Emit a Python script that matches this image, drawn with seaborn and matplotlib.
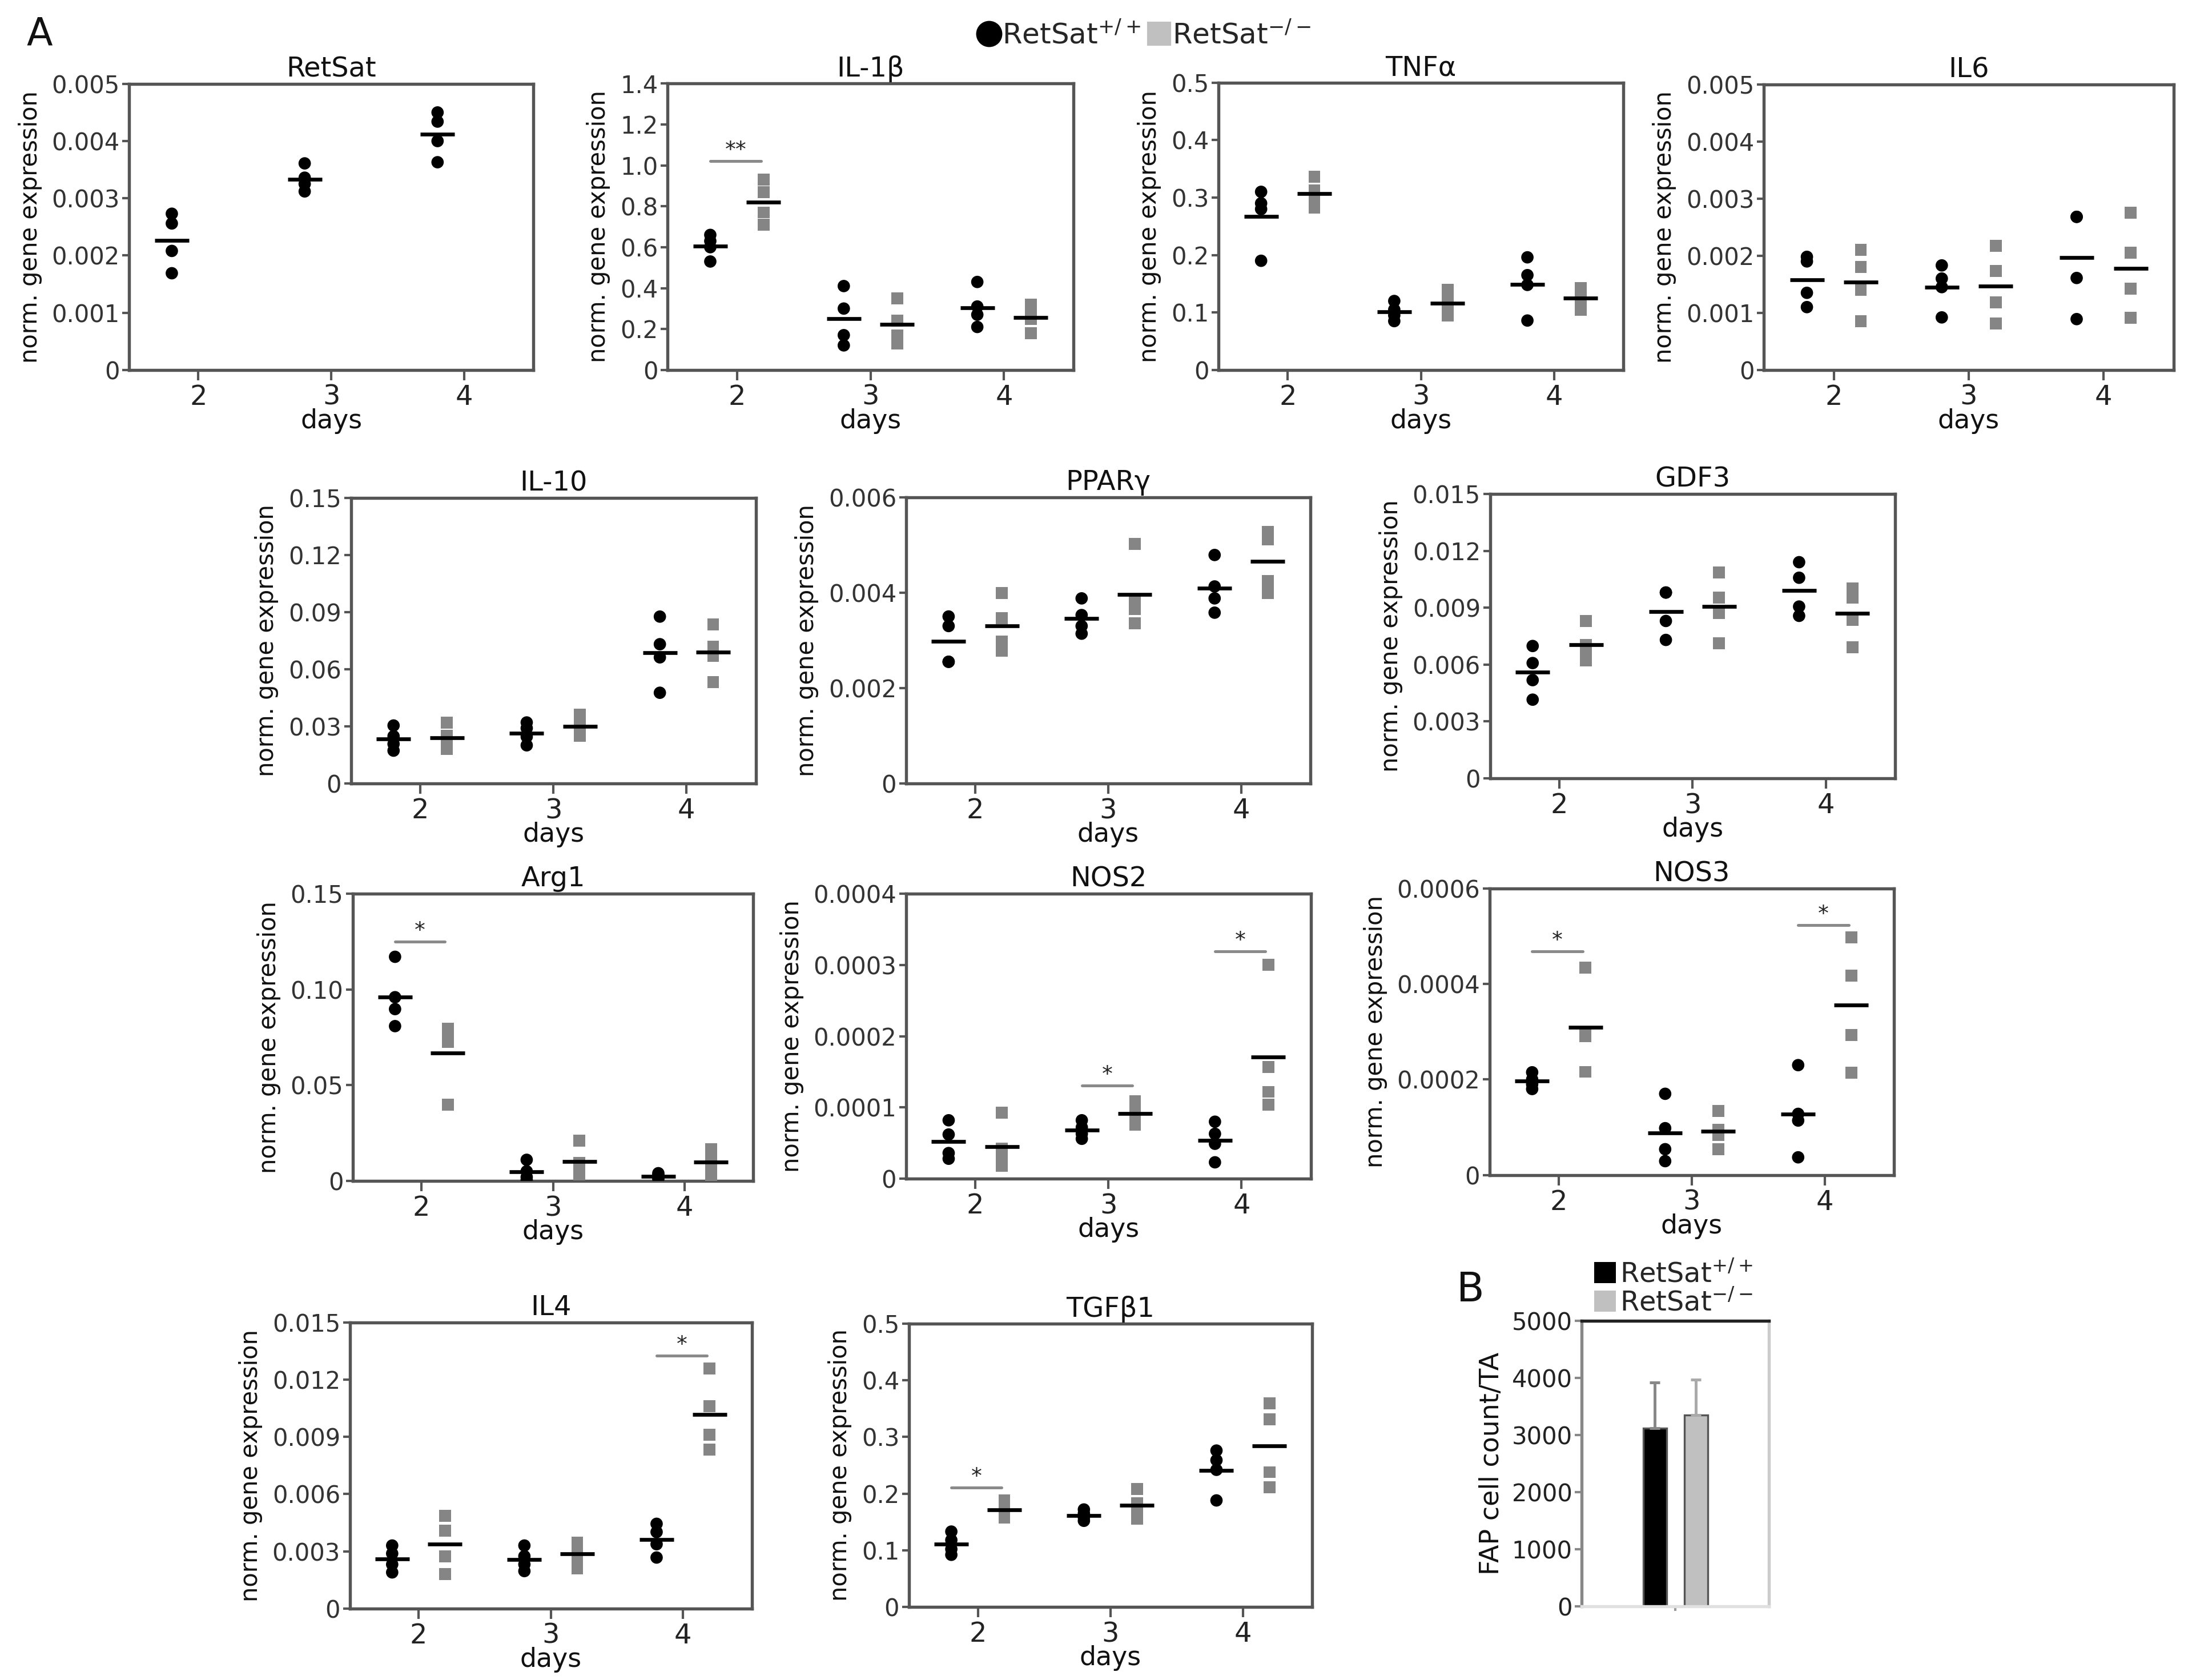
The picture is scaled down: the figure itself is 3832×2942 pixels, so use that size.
import numpy as np
import pandas as pd
import matplotlib
matplotlib.use("Agg")
import matplotlib.pyplot as plt
import seaborn as sns
from matplotlib.lines import Line2D
from matplotlib.patches import Patch

sns.set_theme(style="ticks")
plt.rcParams['font.family'] = ['DejaVu Sans']

DAYS = ['2', '3', '4']
WT = 'RetSat+/+'
KO = 'RetSat-/-'
GENOTYPES = [WT, KO]

# ---- data (per day: 4 animals) ----
RETSAT_WT = [[0.00273, 0.00256, 0.00208, 0.00169], [0.00361, 0.00336, 0.00325, 0.00312], [0.00450, 0.00434, 0.00400, 0.00363]]
RETSAT_KO = [[], [], []]
IL1B_WT = [[0.66, 0.63, 0.60, 0.53], [0.41, 0.30, 0.17, 0.12], [0.43, 0.31, 0.27, 0.21]]
IL1B_KO = [[0.93, 0.87, 0.77, 0.71], [0.35, 0.24, 0.17, 0.13], [0.32, 0.28, 0.25, 0.18]]
TNFA_WT = [[0.31, 0.29, 0.28, 0.19], [0.12, 0.105, 0.095, 0.085], [0.196, 0.165, 0.148, 0.086]]
TNFA_KO = [[0.336, 0.312, 0.297, 0.283], [0.14, 0.12, 0.11, 0.095], [0.143, 0.131, 0.122, 0.105]]
IL6_WT = [[0.00198, 0.0019, 0.00135, 0.0011], [0.00183, 0.0016, 0.00145, 0.00092], [0.00268, 0.00268, 0.00161, 0.00089]]
IL6_KO = [[0.0021, 0.0018, 0.0014, 0.00085], [0.00217, 0.00173, 0.00118, 0.00081], [0.00275, 0.00205, 0.00142, 0.00091]]
IL10_WT = [[0.0304, 0.0248, 0.0207, 0.0172], [0.032, 0.029, 0.0245, 0.020], [0.0876, 0.0731, 0.0662, 0.0476]]
IL10_KO = [[0.032, 0.025, 0.021, 0.018], [0.036, 0.031, 0.028, 0.025], [0.0835, 0.0718, 0.0669, 0.0531]]
PPARG_WT = [[0.0035, 0.0033, 0.00255, 0.00255], [0.00388, 0.00353, 0.0033, 0.00314], [0.00479, 0.00413, 0.00388, 0.00358]]
PPARG_KO = [[0.00399, 0.00347, 0.00297, 0.00278], [0.00502, 0.0038, 0.00366, 0.00336], [0.00528, 0.00512, 0.00424, 0.00399]]
GDF3_WT = [[0.00698, 0.00608, 0.00518, 0.00415], [0.0098, 0.0098, 0.0083, 0.0073], [0.0114, 0.01058, 0.00906, 0.00857]]
GDF3_KO = [[0.0083, 0.00705, 0.00664, 0.00622], [0.01085, 0.00954, 0.00871, 0.00712], [0.01002, 0.00954, 0.00836, 0.00691]]
ARG1_WT = [[0.117, 0.0959, 0.0897, 0.0808], [0.011, 0.005, 0.002, 0.0005], [0.004, 0.003, 0.002, 0.001]]
ARG1_KO = [[0.0795, 0.0747, 0.0726, 0.0397], [0.021, 0.0095, 0.006, 0.0035], [0.0165, 0.012, 0.0085, 0.0025]]
NOS2_WT = [[8.2e-5, 6.2e-5, 3.6e-5, 2.8e-5], [8.2e-5, 7.2e-5, 6.3e-5, 5.6e-5], [8.0e-5, 6.3e-5, 4.9e-5, 2.3e-5]]
NOS2_KO = [[9.3e-5, 4.2e-5, 2.8e-5, 1.8e-5], [1.09e-4, 9.5e-5, 8.7e-5, 7.6e-5], [3.0e-4, 1.57e-4, 1.22e-4, 1.04e-4]]
NOS3_WT = [[2.15e-4, 2.0e-4, 1.9e-4, 1.8e-4], [1.7e-4, 0.98e-4, 0.54e-4, 0.29e-4], [2.3e-4, 1.28e-4, 1.14e-4, 0.37e-4]]
NOS3_KO = [[4.34e-4, 2.96e-4, 2.9e-4, 2.16e-4], [1.34e-4, 0.95e-4, 0.84e-4, 0.54e-4], [4.97e-4, 4.17e-4, 2.93e-4, 2.14e-4]]
IL4_WT = [[0.0033, 0.00288, 0.00231, 0.00189], [0.0033, 0.00274, 0.00231, 0.00196], [0.00444, 0.00401, 0.00337, 0.00267]]
IL4_KO = [[0.00486, 0.00408, 0.00274, 0.00181], [0.00345, 0.00323, 0.00267, 0.0021], [0.01259, 0.0106, 0.00912, 0.00834]]
TGFB1_WT = [[0.133, 0.118, 0.102, 0.092], [0.172, 0.165, 0.158, 0.152], [0.276, 0.259, 0.242, 0.188]]
TGFB1_KO = [[0.188, 0.178, 0.163, 0.158], [0.208, 0.183, 0.171, 0.156], [0.359, 0.331, 0.238, 0.211]]

# significance annotations: (day index, height, label)
IL1B_SIG = [(0, 1.02, '**')]
ARG1_SIG = [(0, 0.125, '*')]
NOS2_SIG = [(1, 1.31e-4, '*'), (2, 3.19e-4, '*')]
NOS3_SIG = [(0, 4.68e-4, '*'), (2, 5.23e-4, '*')]
IL4_SIG = [(2, 0.01327, '*')]
TGFB1_SIG = [(0, 0.211, '*')]

# y tick labels
YT_RETSAT = ['0', '0.001', '0.002', '0.003', '0.004', '0.005']
YT_IL1B = ['0', '0.2', '0.4', '0.6', '0.8', '1.0', '1.2', '1.4']
YT_TNFA = ['0', '0.1', '0.2', '0.3', '0.4', '0.5']
YT_IL6 = ['0', '0.001', '0.002', '0.003', '0.004', '0.005']
YT_IL10 = ['0', '0.03', '0.06', '0.09', '0.12', '0.15']
YT_PPARG = ['0', '0.002', '0.004', '0.006']
YT_GDF3 = ['0', '0.003', '0.006', '0.009', '0.012', '0.015']
YT_ARG1 = ['0', '0.05', '0.10', '0.15']
YT_NOS2 = ['0', '0.0001', '0.0002', '0.0003', '0.0004']
YT_NOS3 = ['0', '0.0002', '0.0004', '0.0006']
YT_IL4 = ['0', '0.003', '0.006', '0.009', '0.012', '0.015']
YT_TGFB1 = ['0', '0.1', '0.2', '0.3', '0.4', '0.5']

# panel B
FAP_MEAN = [3120, 3350]
FAP_ERR = [800, 620]
FAP_YT = ['0', '1000', '2000', '3000', '4000', '5000']

SPINE = '#555555'
SQ_COLOR = '#858585'


def make_df(wt, ko):
    rows = []
    for d, vals in zip(DAYS, wt):
        for v in vals:
            rows.append((d, WT, v))
    for d, vals in zip(DAYS, ko):
        for v in vals:
            rows.append((d, KO, v))
    return pd.DataFrame(rows, columns=['day', 'genotype', 'value'])


fig = plt.figure(figsize=(3832 / 300, 2942 / 300), dpi=300)


def style_axes(ax):
    for s in ax.spines.values():
        s.set_visible(True)
        s.set_color(SPINE)
        s.set_linewidth(1.3)


def panel(rect, title, wt, ko, ytl, sig=()):
    ax = fig.add_axes(rect)
    df = make_df(wt, ko)
    pal = {WT: 'black', KO: SQ_COLOR}
    d_wt = df[df.genotype == WT]
    d_ko = df[df.genotype == KO]
    if len(d_wt):
        sns.stripplot(data=d_wt, x='day', y='value', hue='genotype', hue_order=GENOTYPES,
                      order=DAYS, dodge=True, jitter=False, marker='o', size=5.2,
                      palette=pal, linewidth=0, legend=False, ax=ax, zorder=3)
    if len(d_ko):
        sns.stripplot(data=d_ko, x='day', y='value', hue='genotype', hue_order=GENOTYPES,
                      order=DAYS, dodge=True, jitter=False, marker='s', size=5.0,
                      palette=pal, linewidth=0, legend=False, ax=ax, zorder=3)
    sns.pointplot(data=df, x='day', y='value', hue='genotype', hue_order=GENOTYPES,
                  order=DAYS, dodge=0.4, estimator='mean', errorbar=None, markers='_',
                  linestyle='none', palette={WT: 'black', KO: 'black'},
                  markersize=14.5, markeredgewidth=1.6, legend=False, ax=ax, zorder=5)
    yt = [float(t) for t in ytl]
    ax.set_xlim(-0.52, 2.52)
    ax.set_ylim(0, yt[-1])
    ax.set_yticks(yt)
    ax.set_yticklabels(ytl)
    for (i, y, lab) in sig:
        ax.plot([i - 0.2, i + 0.18], [y, y], color='#8a8a8a', lw=1.2, zorder=4)
        ax.text(i - 0.01, y, lab, ha='center', va='bottom', fontsize=9, color='#222222')
    ax.set_title(title, fontsize=11.5, pad=3, color='#111111')
    ax.set_xlabel('days', fontsize=11, labelpad=-1, color='#111111')
    ax.set_ylabel('norm. gene expression', fontsize=10, labelpad=4, color='#111111')
    ax.tick_params(axis='x', length=4.3, width=1.0, color=SPINE, pad=1.5,
                   labelsize=11.5, labelcolor='#222222', bottom=True)
    ax.tick_params(axis='y', length=3, width=1.0, color=SPINE, pad=1,
                   labelsize=10, labelcolor='#333333', left=True)
    style_axes(ax)
    return ax


# row 1
panel([0.0591, 0.7798, 0.1846, 0.1703], 'RetSat', RETSAT_WT, RETSAT_KO, YT_RETSAT)
panel([0.3051, 0.7798, 0.1855, 0.1705], 'IL-1β', IL1B_WT, IL1B_KO, YT_IL1B, IL1B_SIG)
panel([0.5569, 0.7798, 0.1850, 0.1710], 'TNFα', TNFA_WT, TNFA_KO, YT_TNFA)
panel([0.8061, 0.7798, 0.1874, 0.1700], 'IL6', IL6_WT, IL6_KO, YT_IL6)
# row 2
panel([0.1604, 0.5337, 0.1850, 0.1700], 'IL-10', IL10_WT, IL10_KO, YT_IL10)
panel([0.4141, 0.5337, 0.1848, 0.1703], 'PPARγ', PPARG_WT, PPARG_KO, YT_PPARG)
panel([0.6810, 0.5367, 0.1851, 0.1693], 'GDF3', GDF3_WT, GDF3_KO, YT_GDF3)
# row 3
panel([0.1613, 0.2971, 0.1829, 0.1710], 'Arg1', ARG1_WT, ARG1_KO, YT_ARG1, ARG1_SIG)
panel([0.4141, 0.2984, 0.1850, 0.1696], 'NOS2', NOS2_WT, NOS2_KO, YT_NOS2, NOS2_SIG)
panel([0.6808, 0.3006, 0.1848, 0.1706], 'NOS3', NOS3_WT, NOS3_KO, YT_NOS3, NOS3_SIG)
# row 4
panel([0.1599, 0.0426, 0.1837, 0.1702], 'IL4', IL4_WT, IL4_KO, YT_IL4, IL4_SIG)
panel([0.4154, 0.0435, 0.1842, 0.1686], 'TGFβ1', TGFB1_WT, TGFB1_KO, YT_TGFB1, TGFB1_SIG)

# panel B
axb = fig.add_axes([0.7229, 0.0438, 0.0856, 0.1700])
dfb = pd.DataFrame({'x': [''] * 2, 'genotype': GENOTYPES, 'value': FAP_MEAN})
sns.barplot(data=dfb, x='x', y='value', hue='genotype', hue_order=GENOTYPES,
            palette={WT: 'black', KO: '#c0c0c0'}, width=0.8, gap=0.43, errorbar=None,
            edgecolor='#555555', linewidth=0.8, legend=False, ax=axb)
err_cols = ['#888888', '#aaaaaa']
for patch, err, c in zip(axb.patches, FAP_ERR, err_cols):
    cx = patch.get_x() + patch.get_width() / 2
    top = patch.get_height()
    axb.errorbar([cx], [top], yerr=[[0], [err]], fmt='none', ecolor=c, elinewidth=1.2,
                 capsize=2.2, capthick=1.2, zorder=1)
axb.set_xlim(-0.91, 0.91)
fyt = [float(t) for t in FAP_YT]
axb.set_ylim(0, fyt[-1])
axb.set_yticks(fyt)
axb.set_yticklabels(FAP_YT)
axb.set_xticks([0])
axb.set_xticklabels([''])
axb.set_xlabel('')
axb.set_ylabel('FAP cell count/TA', fontsize=11, labelpad=3, color='#111111')
axb.tick_params(axis='y', length=3, width=1.0, color='#888888', pad=1, labelsize=10,
                labelcolor='#222222', left=True)
axb.tick_params(axis='x', length=2, width=1.0, color='#999999', bottom=True)
for s in axb.spines.values():
    s.set_visible(True)
    s.set_linewidth(1.3)
axb.spines['left'].set_color('#888888')
axb.spines['top'].set_color('#222222')
axb.spines['right'].set_color('#cccccc')
axb.spines['bottom'].set_color('#e0e0e0')

# legends
top_handles = [Line2D([], [], marker='o', color='black', linestyle='none', markersize=10),
               Line2D([], [], marker='s', color='#c0c0c0', linestyle='none', markersize=9)]
fig.legend(top_handles, [r'RetSat$^{+/+}$', r'RetSat$^{-/-}$'], loc='center',
           bbox_to_anchor=(0.523, 0.979), ncol=2, frameon=False, fontsize=12,
           handlelength=0.8, handletextpad=0.05, columnspacing=0.25, borderpad=0)

b_handles = [Patch(facecolor='black', edgecolor='none'),
             Patch(facecolor='#c0c0c0', edgecolor='none')]
fig.legend(b_handles, [r'RetSat$^{+/+}$', r'RetSat$^{-/-}$'], loc='lower left',
           bbox_to_anchor=(0.7285, 0.2165), frameon=False, fontsize=11.5,
           handlelength=0.8, handleheight=0.8, handletextpad=0.15, labelspacing=0.05,
           borderpad=0, borderaxespad=0)

fig.text(0.018, 0.9796, 'A', fontsize=16, ha='center', va='center', color='#111111')
fig.text(0.672, 0.232, 'B', fontsize=17, ha='center', va='center', color='#111111')

fig.savefig('out.png', dpi=300)
